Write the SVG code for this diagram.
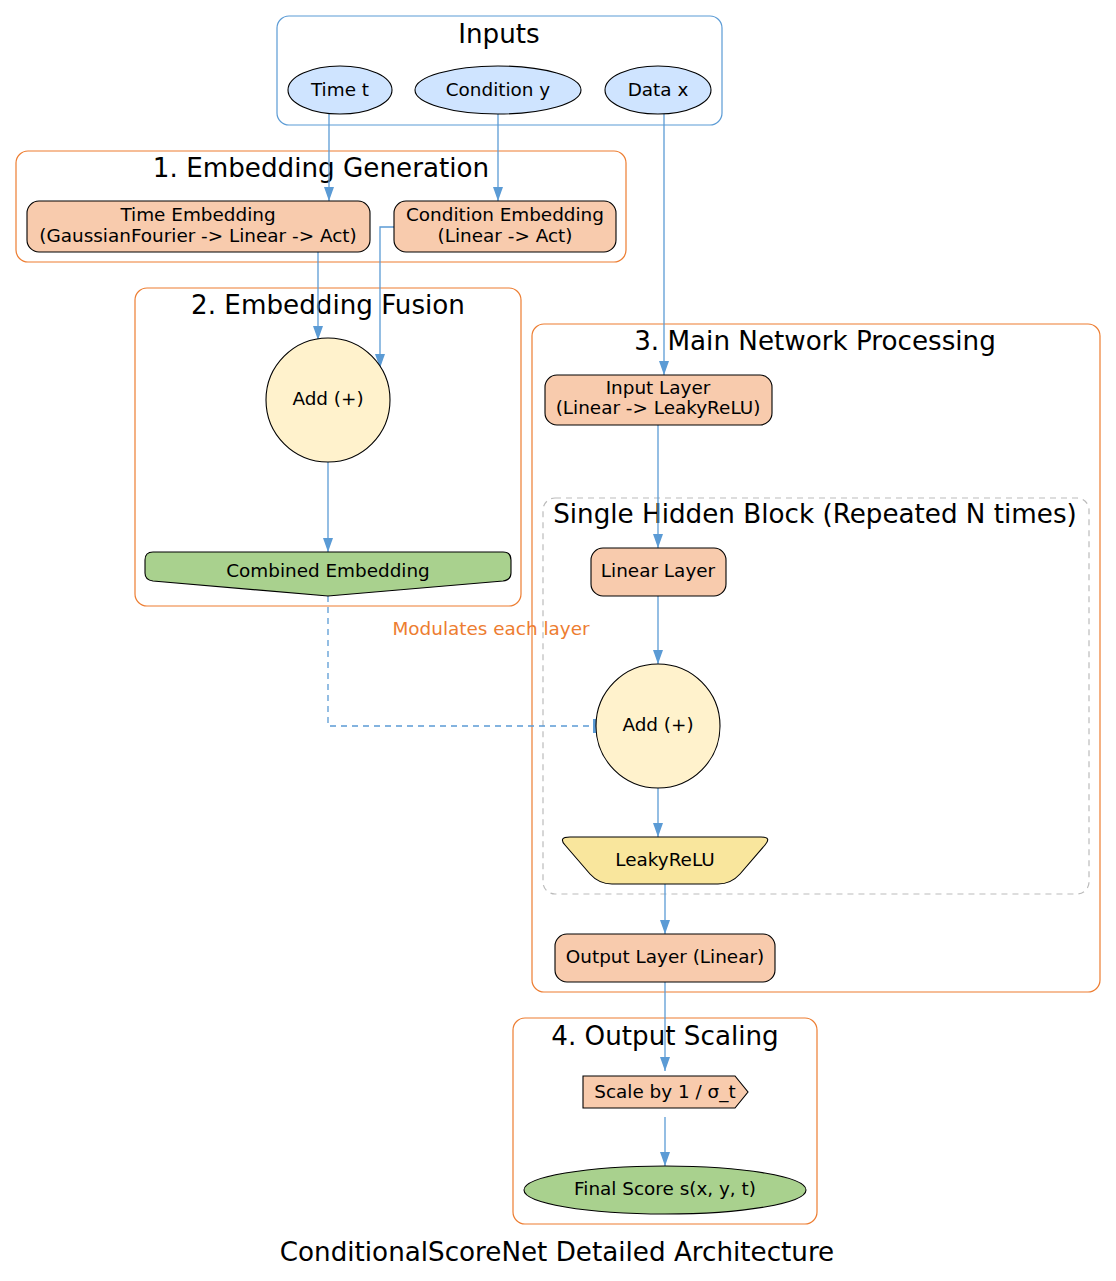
<svg xmlns="http://www.w3.org/2000/svg" width="1116" height="1281" viewBox="0 0 1116 1281">
<style>
text{font-family:"DejaVu Sans","Liberation Sans",sans-serif;fill:#000}
.ct{font-size:26.2px;text-anchor:middle}
.nt{font-size:18.4px;text-anchor:middle}
.cl{fill:none;stroke:#ed7d31;stroke-width:1.2}
.nd{stroke:#000;stroke-width:1.1}
.e{fill:none;stroke:#5b9bd5;stroke-width:1.3}
.blue{fill:#cfe4ff}
.peach{fill:#f8cbad}
.cream{fill:#fff2cc}
.green{fill:#a9d18e}
</style>
<defs>
<marker id="ah" markerUnits="userSpaceOnUse" markerWidth="16" markerHeight="12" refX="14" refY="5" orient="auto" viewBox="0 0 16 10">
<path d="M0,0 L14,5 L0,10 Z" fill="#5b9bd5"/>
</marker>
<marker id="tee" markerUnits="userSpaceOnUse" markerWidth="6" markerHeight="14" refX="4" refY="7" orient="auto" viewBox="0 0 6 14">
<rect x="0" y="0" width="4" height="14" fill="#5b9bd5"/>
</marker>
</defs>

<g id="cluster-inputs">
<rect x="277" y="16" width="445" height="109" rx="12" fill="none" stroke="#5b9bd5" stroke-width="1.2"/>
<text class="ct" x="499" y="43">Inputs</text>
</g>
<g id="cluster-embgen">
<rect class="cl" x="16" y="151" width="610" height="111" rx="12"/>
<text class="ct" x="321" y="177">1. Embedding Generation</text>
</g>
<g id="cluster-fusion">
<rect class="cl" x="135" y="288" width="386" height="318" rx="12"/>
<text class="ct" x="328" y="314">2. Embedding Fusion</text>
</g>
<g id="cluster-main">
<rect class="cl" x="532" y="324" width="568" height="668" rx="12"/>
<text class="ct" x="815" y="350">3. Main Network Processing</text>
</g>
<g id="cluster-hidden">
<rect x="543" y="498" width="546" height="396" rx="12" fill="none" stroke="#bbbbbb" stroke-width="1.2" stroke-dasharray="6,5"/>
<text class="ct" x="815" y="523">Single Hidden Block (Repeated N times)</text>
</g>
<g id="cluster-scaling">
<rect class="cl" x="513" y="1018" width="304" height="206" rx="12"/>
<text class="ct" x="665" y="1045">4. Output Scaling</text>
</g>

<g id="edges">
<path class="e" d="M329,114 V201" marker-end="url(#ah)"/>
<path class="e" d="M498,114 V201" marker-end="url(#ah)"/>
<path class="e" d="M664,114 V375" marker-end="url(#ah)"/>
<path class="e" d="M318,252 V340" marker-end="url(#ah)"/>
<path class="e" d="M394,227 H380 V368" marker-end="url(#ah)"/>
<path class="e" d="M328,462 V552" marker-end="url(#ah)"/>
<path class="e" d="M328,596 V726 H597" stroke-dasharray="6,5" marker-end="url(#tee)"/>
<text x="491" y="635" font-size="18.4" text-anchor="middle" style="fill:#ed7d31">Modulates each layer</text>
<path class="e" d="M658,425 V548" marker-end="url(#ah)"/>
<path class="e" d="M658,596 V664" marker-end="url(#ah)"/>
<path class="e" d="M658,788 V837" marker-end="url(#ah)"/>
<path class="e" d="M665,884 V934" marker-end="url(#ah)"/>
<path class="e" d="M665,982 V1071" marker-end="url(#ah)"/>
<path class="e" d="M665,1117 V1166" marker-end="url(#ah)"/>
</g>

<g id="node-time">
<ellipse class="nd blue" cx="340" cy="90" rx="52" ry="24"/>
<text class="nt" x="340" y="96">Time t</text>
</g>
<g id="node-cond">
<ellipse class="nd blue" cx="498" cy="90" rx="83" ry="24"/>
<text class="nt" x="498" y="96">Condition y</text>
</g>
<g id="node-data">
<ellipse class="nd blue" cx="658" cy="90" rx="53" ry="24"/>
<text class="nt" x="658" y="96">Data x</text>
</g>
<g id="node-time-emb">
<rect class="nd peach" x="27" y="201" width="343" height="51" rx="12"/>
<text class="nt" x="198" y="221">Time Embedding</text>
<text class="nt" x="198" y="242">(GaussianFourier -&gt; Linear -&gt; Act)</text>
</g>
<g id="node-cond-emb">
<rect class="nd peach" x="394" y="201" width="222" height="51" rx="12"/>
<text class="nt" x="505" y="221">Condition Embedding</text>
<text class="nt" x="505" y="242">(Linear -&gt; Act)</text>
</g>
<g id="node-add1">
<circle class="nd cream" cx="328" cy="400" r="62"/>
<text class="nt" x="328" y="405">Add (+)</text>
</g>
<g id="node-combined">
<path class="nd green" d="M145,560 Q145,552 153,552 L503,552 Q511,552 511,560 L511,573 Q511,580 503,581 L328,596 L153,581 Q145,580 145,573 Z"/>
<text class="nt" x="328" y="577">Combined Embedding</text>
</g>
<g id="node-input-layer">
<rect class="nd peach" x="545" y="375" width="227" height="50" rx="12"/>
<text class="nt" x="658" y="394">Input Layer</text>
<text class="nt" x="658" y="414">(Linear -&gt; LeakyReLU)</text>
</g>
<g id="node-linear">
<rect class="nd peach" x="591" y="548" width="135" height="48" rx="12"/>
<text class="nt" x="658" y="577">Linear Layer</text>
</g>
<g id="node-add2">
<circle class="nd cream" cx="658" cy="726" r="62"/>
<text class="nt" x="658" y="731">Add (+)</text>
</g>
<g id="node-leaky">
<path class="nd" d="M570,837 L761,837 Q772,837 765,845 L740,874 Q731,884 718,884 L612,884 Q599,884 590,874 L565,845 Q558,837 570,837 Z" style="fill:#f9e69d"/>
<text class="nt" x="665" y="866">LeakyReLU</text>
</g>
<g id="node-output-layer">
<rect class="nd peach" x="555" y="934" width="220" height="48" rx="12"/>
<text class="nt" x="665" y="963">Output Layer (Linear)</text>
</g>
<g id="node-scale">
<path class="nd peach" d="M583,1076 L735,1076 L748,1092 L735,1108 L583,1108 Z"/>
<text class="nt" x="665" y="1098">Scale by 1 / σ_t</text>
</g>
<g id="node-final">
<ellipse class="nd green" cx="665" cy="1190" rx="141" ry="24"/>
<text class="nt" x="665" y="1195">Final Score s(x, y, t)</text>
</g>

<text class="ct" x="557" y="1261">ConditionalScoreNet Detailed Architecture</text>
</svg>
